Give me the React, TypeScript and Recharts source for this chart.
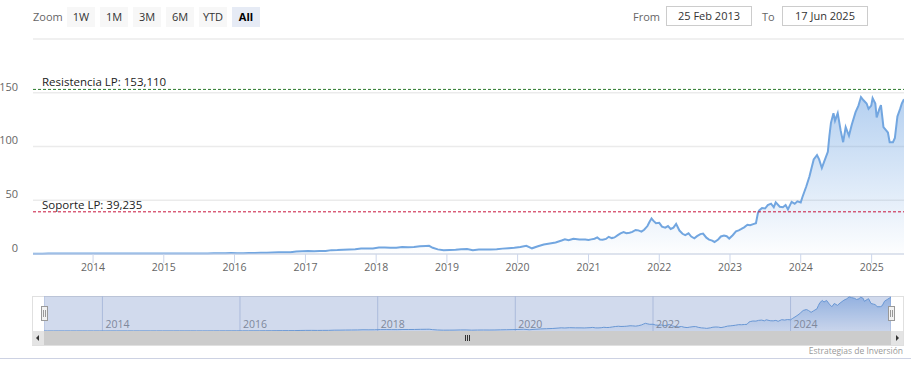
import React from 'react';
import { AreaChart, Area, XAxis, YAxis, CartesianGrid, ReferenceLine } from 'recharts';

const dates = [
  '2013-02-25','2013-03-15','2013-04-15','2013-05-15','2013-06-15','2013-07-15','2013-08-15','2013-09-15','2013-10-15','2013-11-15','2013-12-15',
  '2014-01-15','2014-02-15','2014-03-15','2014-04-15','2014-05-15','2014-06-15','2014-07-15','2014-08-15','2014-09-15','2014-10-15','2014-11-15','2014-12-15',
  '2015-01-15','2015-02-15','2015-03-15','2015-04-15','2015-05-15','2015-06-15','2015-07-15','2015-08-15','2015-09-15','2015-10-15','2015-11-15','2015-12-15',
  '2016-01-15','2016-02-15','2016-03-15','2016-04-15','2016-05-15','2016-06-15','2016-07-15','2016-08-15','2016-09-15','2016-10-15','2016-11-15','2016-12-15',
  '2017-01-15','2017-02-15','2017-03-15','2017-04-15','2017-05-15','2017-06-15','2017-07-15','2017-08-15','2017-09-15','2017-10-15','2017-11-15','2017-12-15',
  '2018-01-15','2018-02-15','2018-03-15','2018-04-15','2018-05-15','2018-06-15','2018-07-15','2018-08-15','2018-09-15','2018-10-01','2018-10-20','2018-11-15','2018-12-15',
  '2019-01-15','2019-02-15','2019-03-15','2019-04-15','2019-05-15','2019-06-15','2019-07-15','2019-08-15','2019-09-15','2019-10-15','2019-11-15','2019-12-15',
  '2020-01-15','2020-02-15','2020-03-15','2020-04-15','2020-05-15','2020-06-15','2020-07-15','2020-08-15','2020-09-01','2020-09-20','2020-10-15','2020-11-15','2020-12-15',
  '2021-01-01','2021-01-15','2021-02-01','2021-02-15','2021-03-01','2021-03-15','2021-04-01','2021-04-15','2021-05-01','2021-05-15','2021-06-01','2021-06-15',
  '2021-07-01','2021-07-15','2021-08-01','2021-08-15','2021-09-01','2021-09-15','2021-10-01','2021-10-15','2021-11-01','2021-11-12','2021-11-22','2021-12-01','2021-12-15',
  '2022-01-01','2022-01-15','2022-02-01','2022-02-15','2022-03-01','2022-03-15','2022-03-29','2022-04-15','2022-05-01','2022-05-15','2022-06-01','2022-06-15',
  '2022-07-01','2022-07-15','2022-08-01','2022-08-15','2022-09-01','2022-09-15','2022-10-01','2022-10-13','2022-11-01','2022-11-15','2022-12-01','2022-12-15','2022-12-28',
  '2023-01-15','2023-02-01','2023-02-15','2023-03-01','2023-03-15','2023-04-01','2023-04-15','2023-05-01','2023-05-15','2023-05-25','2023-06-01','2023-06-15',
  '2023-07-01','2023-07-15','2023-08-01','2023-08-15','2023-08-25','2023-09-15','2023-10-01','2023-10-15','2023-10-27','2023-11-15','2023-12-01','2023-12-15',
  '2024-01-01','2024-01-10','2024-01-30','2024-02-15','2024-02-23','2024-03-08','2024-03-25','2024-04-05','2024-04-19','2024-05-01','2024-05-20','2024-05-28',
  '2024-06-05','2024-06-18','2024-06-26','2024-07-10','2024-07-25','2024-08-07','2024-08-20','2024-09-06','2024-09-20','2024-10-10','2024-10-25','2024-11-07',
  '2024-11-20','2024-12-06','2024-12-16','2024-12-30','2025-01-06','2025-01-20','2025-01-27','2025-02-10','2025-02-18','2025-03-03','2025-03-17','2025-03-26',
  '2025-04-04','2025-04-21','2025-05-01','2025-05-14','2025-05-28','2025-06-06','2025-06-17',
];

const prices = [
  0.31,0.32,0.32,0.35,0.35,0.35,0.36,0.38,0.38,0.38,0.40,
  0.39,0.45,0.45,0.46,0.47,0.46,0.44,0.48,0.46,0.47,0.51,0.50,
  0.50,0.55,0.52,0.55,0.53,0.50,0.50,0.56,0.61,0.70,0.80,0.82,
  0.73,0.78,0.89,0.89,1.15,1.17,1.43,1.56,1.71,1.73,2.30,2.67,
  2.73,2.52,2.72,2.80,3.60,3.70,4.06,4.23,4.47,5.17,5.02,5.20,
  6.00,6.05,5.90,5.80,6.40,6.30,6.50,7.10,7.40,7.60,5.80,4.30,3.60,
  3.70,3.90,4.50,4.60,3.60,4.10,4.30,4.20,4.40,5.00,5.40,5.80,
  6.50,7.60,5.30,7.20,8.90,9.80,10.70,12.50,13.60,12.80,14.20,13.50,13.40,
  13.0,13.6,14.2,15.4,13.4,13.2,14.0,16.0,14.8,15.4,17.6,19.2,
  20.4,19.4,19.8,20.6,22.4,22.0,20.8,22.6,26.0,30.0,33.0,31.0,28.6,
  29.0,25.5,24.5,26.0,23.3,24.5,28.0,21.8,18.8,17.6,19.2,16.2,
  14.6,16.6,18.5,19.0,15.2,13.4,12.4,11.2,13.5,16.3,17.2,16.5,14.4,
  17.5,21.0,22.0,23.3,24.8,27.2,26.8,27.8,28.6,38.0,40.5,42.8,
  42.3,45.5,46.8,43.5,48.0,44.0,43.5,45.5,41.5,48.5,46.8,49.0,
  48.0,53.0,63.0,72.0,78.0,88.0,92.0,88.0,80.0,86.0,95.0,110.0,
  122.0,131.0,124.0,131.0,115.0,104.0,118.0,110.0,120.0,132.0,138.0,146.0,
  143.0,140.0,135.0,138.0,145.0,140.0,127.0,135.0,138.5,118.0,115.0,113.0,
  104.0,104.0,108.0,128.0,135.0,140.0,144.0,
];

const yearTicks = [2014, 2015, 2016, 2017, 2018, 2019, 2020, 2021, 2022, 2023, 2024, 2025];
const navYearTicks = [2014, 2016, 2018, 2020, 2022, 2024];
const yTicks = [0, 50, 100, 150, 200];
const resistance = 153.11;
const support = 39.235;
const resistanceLabel = 'Resistencia LP: 153,110';
const supportLabel = 'Soporte LP: 39,235';
const rangeButtons = ['1W', '1M', '3M', '6M', 'YTD', 'All'];
const selectedButton = 'All';
const fromDate = '25 Feb 2013';
const toDate = '17 Jun 2025';
const startDate = '2013-02-25';
const endDate = '2025-06-17';
const credit = 'Estrategias de Inversión';

const data = dates.map((d, i) => ({ t: Date.parse(d), v: prices[i] }));
const domainX = [Date.parse(startDate), Date.parse(endDate)];
const yearMs = (y: number) => Date.UTC(y, 0, 1);

const FONT = '"Open Sans", "DejaVu Sans", sans-serif';

const YTick = (props: any) => {
  const { y, payload } = props;
  if (payload.value === 200) return null;
  return (
    <text x={18} y={y - 6} dy="0.35em" textAnchor="end" fontSize={11} fill="#666" fontFamily={FONT}>
      {payload.value}
    </text>
  );
};

const XTick = (props: any) => {
  const { x, payload } = props;
  return (
    <text x={x} y={267} dy="0.35em" textAnchor="middle" fontSize={10.5} fill="#666" fontFamily={FONT}>
      {new Date(payload.value).getUTCFullYear()}
    </text>
  );
};

const NavTick = (props: any) => {
  const { x, payload } = props;
  return (
    <text x={x + 3} y={28} dy="0.35em" textAnchor="start" fontSize={10.5} fill="#8a8a8a" fontFamily={FONT}>
      {new Date(payload.value).getUTCFullYear()}
    </text>
  );
};

const RefLabel = (props: any) => {
  const { viewBox, text } = props;
  if (!viewBox) return null;
  return (
    <text x={viewBox.x + 9} y={viewBox.y - 3} fontSize={11.5} fill="#222" fontFamily={FONT}>
      {text}
    </text>
  );
};

export default function App() {
  return (
    <div style={{ position: 'absolute', left: 0, top: 0, width: 911, height: 378, background: '#fff', fontFamily: FONT, overflow: 'hidden' }}>
      {/* range selector */}
      <div style={{ position: 'absolute', left: 33, top: 7, height: 20, lineHeight: '20px', fontSize: 11, color: '#666' }}>Zoom</div>
      {rangeButtons.map((b, i) => (
        <div
          key={b}
          style={{
            position: 'absolute', left: 67 + i * 33, top: 7, width: 28, height: 20, lineHeight: '20px',
            textAlign: 'center', fontSize: 11, background: b === selectedButton ? '#e6ebf5' : '#f7f7f7',
            color: b === selectedButton ? '#000' : '#333', fontWeight: b === selectedButton ? 700 : 400,
          }}
        >
          {b}
        </div>
      ))}
      <div style={{ position: 'absolute', left: 633, top: 7, height: 20, lineHeight: '20px', fontSize: 11, color: '#666' }}>From</div>
      <div style={{ position: 'absolute', left: 666, top: 6, width: 84, height: 18, lineHeight: '18px', border: '1px solid #ccc', textAlign: 'center', fontSize: 11, color: '#333' }}>{fromDate}</div>
      <div style={{ position: 'absolute', left: 762, top: 7, height: 20, lineHeight: '20px', fontSize: 11, color: '#666' }}>To</div>
      <div style={{ position: 'absolute', left: 782, top: 6, width: 84, height: 18, lineHeight: '18px', border: '1px solid #ccc', textAlign: 'center', fontSize: 11, color: '#333' }}>{toDate}</div>

      {/* main chart */}
      <div style={{ position: 'absolute', left: 0, top: 0 }}>
        <AreaChart width={911} height={280} data={data} margin={{ top: 39, right: 7, bottom: 0, left: 0 }}>
          <defs>
            <linearGradient id="mainFill" x1="0" y1="0" x2="0" y2="1">
              <stop offset="0%" stopColor="#5a97de" stopOpacity={0.75} />
              <stop offset="100%" stopColor="#5a97de" stopOpacity={0.02} />
            </linearGradient>
          </defs>
          <CartesianGrid horizontal vertical={false} stroke="#ebebeb" strokeWidth={1.5} />
          <XAxis
            dataKey="t"
            type="number"
            scale="time"
            domain={domainX}
            ticks={yearTicks.map(yearMs)}
            interval={0}
            tick={<XTick />}
            height={26}
            tickSize={9}
            axisLine={{ stroke: '#ccd6eb' }}
            tickLine={{ stroke: '#ccd6eb' }}
            allowDataOverflow
          />
          <YAxis
            type="number"
            domain={[0, 200]}
            ticks={yTicks}
            interval={0}
            width={33}
            axisLine={false}
            tickLine={false}
            tick={<YTick />}
          />
          <Area
            type="linear"
            dataKey="v"
            stroke="#72a6e0"
            strokeWidth={2}
            fill="url(#mainFill)"
            isAnimationActive={false}
            dot={false}
            activeDot={false}
          />
          <ReferenceLine y={resistance} stroke="#2b7a2b" strokeDasharray="3 2" strokeWidth={1} label={<RefLabel text={resistanceLabel} />} />
          <ReferenceLine y={support} stroke="#c8143c" strokeDasharray="3 2" strokeWidth={1} label={<RefLabel text={supportLabel} />} />
        </AreaChart>
      </div>

      {/* navigator outline */}
      <div style={{ position: 'absolute', left: 32, top: 296, width: 870, height: 48, border: '1px solid #e0e0e0', boxSizing: 'content-box' }} />
      {/* navigator chart */}
      <div style={{ position: 'absolute', left: 44, top: 296 }}>
        <AreaChart width={847} height={36} data={data} margin={{ top: 0, right: 0, bottom: 0, left: 0 }}>
          <defs>
            <linearGradient id="navFill" x1="0" y1="0" x2="0" y2="1">
              <stop offset="0%" stopColor="#3d7fd6" stopOpacity={0.75} />
              <stop offset="100%" stopColor="#3d7fd6" stopOpacity={0.1} />
            </linearGradient>
          </defs>
          <CartesianGrid horizontal={false} vertical stroke="#c9d2e6" />
          <XAxis
            dataKey="t"
            type="number"
            scale="time"
            domain={domainX}
            ticks={navYearTicks.map(yearMs)}
            interval={0}
            tick={<NavTick />}
            height={1}
            axisLine={false}
            tickLine={false}
            allowDataOverflow
          />
          <YAxis hide type="number" domain={[0, 150]} />
          <Area
            type="linear"
            dataKey="v"
            stroke="#6a9fdb"
            strokeWidth={1}
            fill="url(#navFill)"
            isAnimationActive={false}
            dot={false}
            activeDot={false}
          />
        </AreaChart>
      </div>
      {/* navigator mask */}
      <div style={{ position: 'absolute', left: 44, top: 296, width: 847, height: 35, background: 'rgba(102,133,194,0.3)', pointerEvents: 'none' }} />

      {/* handles */}
      {[41, 888].map((hx) => (
        <div key={hx} style={{ position: 'absolute', left: hx, top: 306, width: 5, height: 13, background: '#f2f2f2', border: '1px solid #999' }}>
          <div style={{ position: 'absolute', left: 1, top: 3, width: 1, height: 7, background: '#999' }} />
          <div style={{ position: 'absolute', left: 3, top: 3, width: 1, height: 7, background: '#999' }} />
        </div>
      ))}

      {/* scrollbar */}
      <div style={{ position: 'absolute', left: 32, top: 331, width: 871, height: 14, background: '#cccccc' }} />
      <div style={{ position: 'absolute', left: 32, top: 331, width: 12, height: 14, background: '#e4e4e4' }}>
        <div style={{ position: 'absolute', left: 4, top: 4, width: 0, height: 0, borderTop: '3px solid transparent', borderBottom: '3px solid transparent', borderRight: '3px solid #333' }} />
      </div>
      <div style={{ position: 'absolute', left: 891, top: 331, width: 12, height: 14, background: '#e4e4e4' }}>
        <div style={{ position: 'absolute', left: 5, top: 4, width: 0, height: 0, borderTop: '3px solid transparent', borderBottom: '3px solid transparent', borderLeft: '3px solid #333' }} />
      </div>
      {[465, 467, 469].map((gx) => (
        <div key={gx} style={{ position: 'absolute', left: gx, top: 335, width: 1, height: 6, background: '#333' }} />
      ))}

      {/* credit */}
      <div style={{ position: 'absolute', right: 8, top: 345, fontSize: 8.5, color: '#999', whiteSpace: 'nowrap' }}>{credit}</div>
      {/* bottom rule */}
      <div style={{ position: 'absolute', left: 0, top: 358, width: 911, height: 1, background: '#cdd2e3' }} />
    </div>
  );
}
